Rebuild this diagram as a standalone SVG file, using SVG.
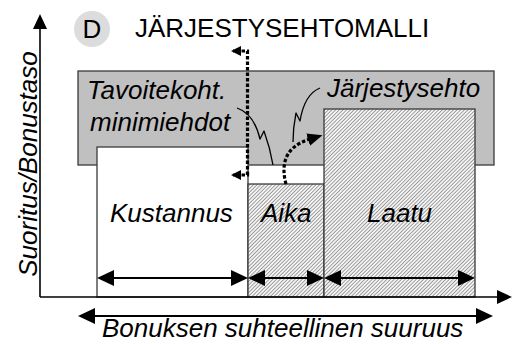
<svg xmlns="http://www.w3.org/2000/svg" width="515" height="344" viewBox="0 0 515 344">
  <defs>
    <style>
      .lbl { font-family: "Liberation Sans", Arial, sans-serif; font-size: 26px; font-style: italic; fill: #000; }
      .ttl { font-family: "Liberation Sans", Arial, sans-serif; font-size: 26px; fill: #000; }
      .box { stroke: #3a3a3a; stroke-width: 1.3; }
      .axis { fill: none; stroke: #000; stroke-width: 1.6; }
      .dim { fill: none; stroke: #000; stroke-width: 2; }
      .dash { fill: none; stroke: #000; stroke-width: 3.2; stroke-dasharray: 3.5 2; }
      .call { fill: none; stroke: #000; stroke-width: 1.3; stroke-linejoin: round; }
    </style>
    <pattern id="hatch" patternUnits="userSpaceOnUse" width="2.6" height="10" patternTransform="rotate(45)">
      <rect width="2.6" height="10" fill="#f4f4f4"/>
      <rect width="0.8" height="10" fill="#8c8c8c"/>
    </pattern>
    <marker id="axisHead" viewBox="0 0 15 14" refX="13" refY="7" markerWidth="15" markerHeight="14" orient="auto" markerUnits="userSpaceOnUse">
      <path d="M0,0 L15,7 L0,14 Z" fill="#000"/>
    </marker>
    <marker id="dimHead" viewBox="0 0 17 16" refX="15" refY="8" markerWidth="17" markerHeight="16" orient="auto-start-reverse" markerUnits="userSpaceOnUse">
      <path d="M0,0 L17,8 L0,16 Z" fill="#000"/>
    </marker>
    <marker id="smallHead" viewBox="0 0 10 10" refX="8" refY="5" markerWidth="10" markerHeight="10" orient="auto" markerUnits="userSpaceOnUse">
      <path d="M0,0 L10,5 L0,10 Z" fill="#000"/>
    </marker>
    <marker id="curveHead" viewBox="0 0 15 13" refX="2" refY="6.5" markerWidth="15" markerHeight="13" orient="auto" markerUnits="userSpaceOnUse">
      <path d="M0,0 L15,6.5 L0,13 Z" fill="#000"/>
    </marker>
  </defs>

  <rect width="515" height="344" fill="#fff"/>

  <!-- heading -->
  <g id="title">
    <circle cx="92" cy="29" r="18" fill="#dcdcdc"/>
    <text class="ttl" x="92" y="38" text-anchor="middle" font-size="25">D</text>
    <text class="ttl" x="135" y="37">JÄRJESTYSEHTOMALLI</text>
  </g>

  <!-- band of minimum conditions -->
  <g id="minimiehdot">
    <rect class="box" x="78" y="71" width="416" height="94" fill="#c0c0c0"/>
    <text class="lbl" x="87" y="99">Tavoitekoht.</text>
    <text class="lbl" x="90" y="131">minimiehdot</text>
    <text class="lbl" x="327" y="97">Järjestysehto</text>
  </g>

  <g id="kustannus">
    <rect class="box" x="97" y="147" width="151" height="150" fill="#fff"/>
    <text class="lbl" x="110" y="222">Kustannus</text>
  </g>

  <g id="aika">
    <rect class="box" x="248" y="184" width="76" height="113" fill="url(#hatch)"/>
    <text class="lbl" x="261" y="222">Aika</text>
  </g>

  <g id="laatu">
    <rect class="box" x="324" y="109" width="151" height="188" fill="url(#hatch)"/>
    <text class="lbl" x="367" y="222">Laatu</text>
  </g>

  <!-- axes -->
  <g id="axes">
    <path class="axis" d="M40,297 V16" marker-end="url(#axisHead)"/>
    <path class="axis" d="M40,297 H510" marker-end="url(#axisHead)"/>
    <text class="lbl" transform="translate(37,164) rotate(-90)" text-anchor="middle" font-size="25">Suoritus/Bonustaso</text>
    <text class="lbl" x="102" y="337">Bonuksen suhteellinen suuruus</text>
  </g>

  <!-- connectors -->
  <g id="connectors">
    <path class="dim" d="M99,278 H246" marker-start="url(#dimHead)" marker-end="url(#dimHead)"/>
    <path class="dim" d="M250,278 H322" marker-start="url(#dimHead)" marker-end="url(#dimHead)"/>
    <path class="dim" d="M326,278 H473" marker-start="url(#dimHead)" marker-end="url(#dimHead)"/>
    <path class="dim" d="M80,316 H491" marker-start="url(#dimHead)" marker-end="url(#dimHead)"/>

    <path class="dash" d="M247.5,175 V51 H233" marker-end="url(#smallHead)"/>
    <path class="dash" d="M247.5,172 V175 H233" marker-end="url(#smallHead)"/>

    <path class="dash" d="M286,184 C281,165 284,147 310,139" marker-end="url(#curveHead)"/>

    <path class="call" d="M237,108 C249,112 256,122 260,139 L264,131 C268,142 271,153 273,165"/>
    <path class="call" d="M320,88 C310,92 303,103 300,121 L296,113 C294,123 293,133 293,142"/>
  </g>
</svg>
